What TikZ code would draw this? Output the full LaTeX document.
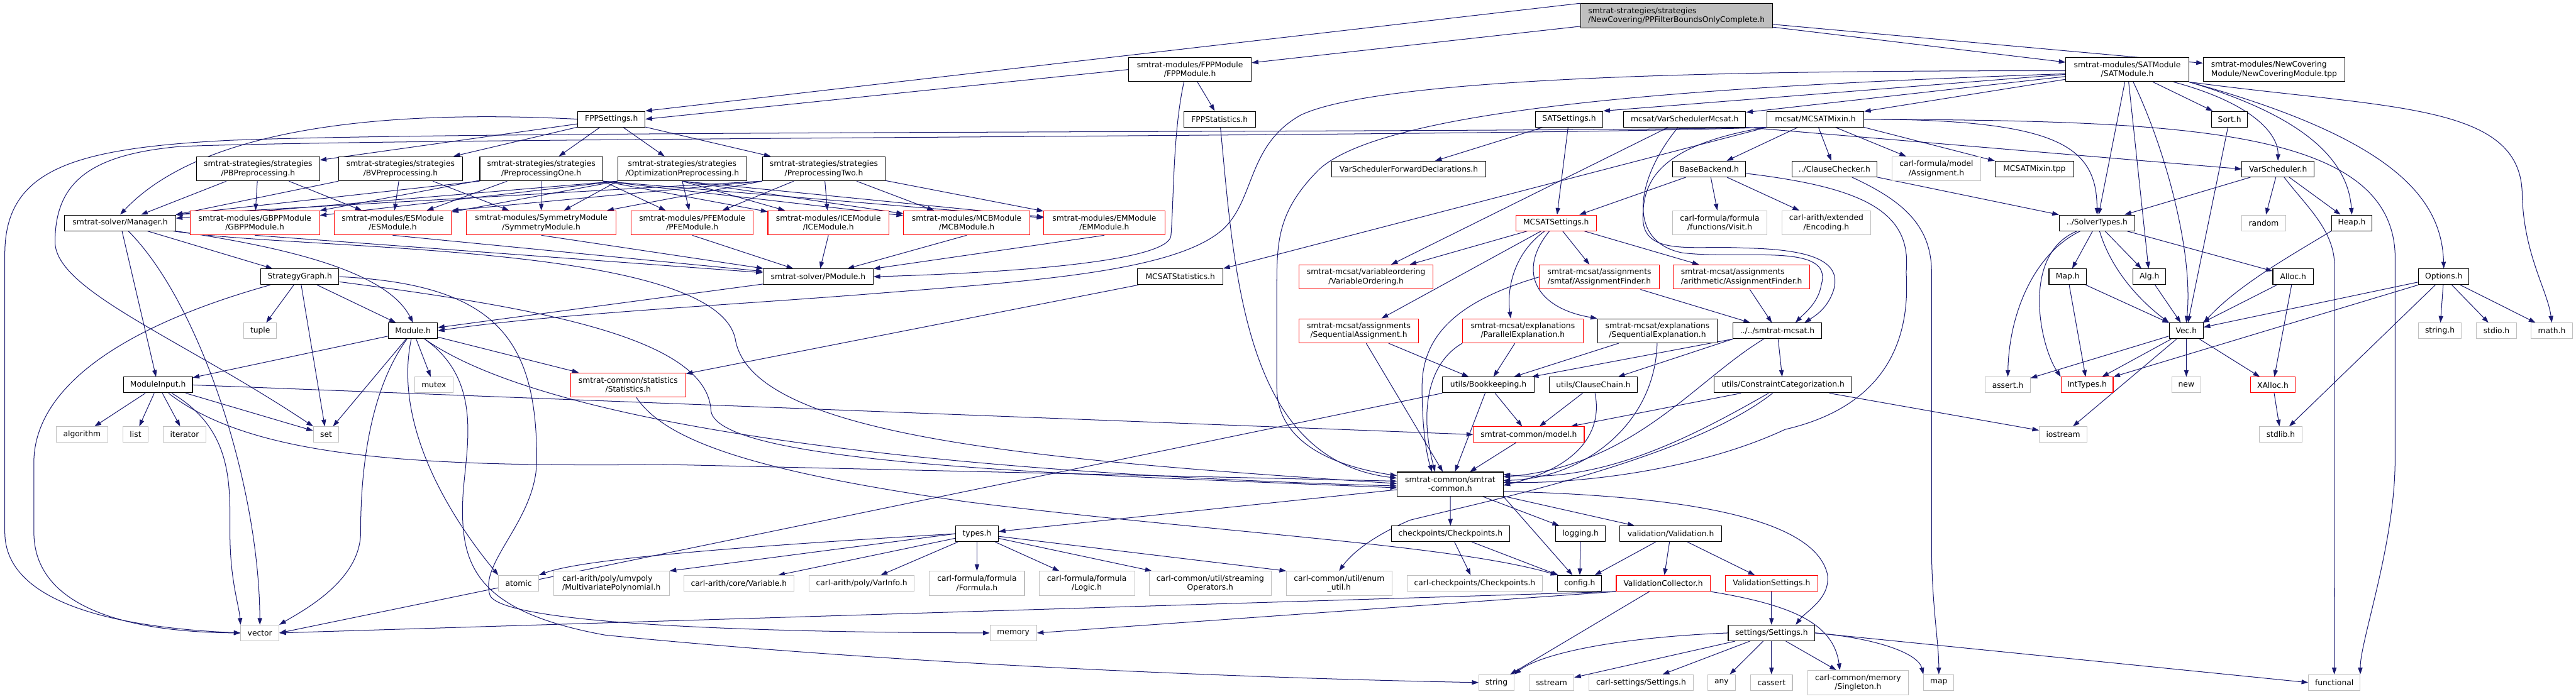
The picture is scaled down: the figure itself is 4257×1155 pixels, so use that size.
\documentclass[tikz,border=0pt]{standalone}
\usepackage{fontspec}
\setmainfont{DejaVu Sans}
\usetikzlibrary{arrows.meta}
\pgfdeclarelayer{bg}
\pgfsetlayers{bg,main}

\definecolor{edgeblue}{HTML}{191970}
\definecolor{extgray}{HTML}{BFBFBF}
\definecolor{rootfill}{HTML}{BFBFBF}
\definecolor{truncred}{HTML}{FF0000}

\begin{document}
\begin{tikzpicture}[
  x=1pt, y=-1pt, font=\fontsize{12.8}{15}\selectfont,
  box/.style={draw=black, fill=white, line width=1.1pt, inner sep=0pt, minimum height=26pt, align=center},
  two/.style={minimum height=40pt},
  trunc/.style={box, draw=truncred},
  ext/.style={box, draw=extgray},
  root/.style={box, fill=rootfill},
  dep/.style={draw=edgeblue, line width=1.05pt, -{Triangle[length=11pt,width=7.5pt]}}
]
\useasboundingbox (0,0) rectangle (4257,1155);

% row 1 and 2
\node[root, two, minimum width=317pt, align=left] (ppf) at (2770.5,26) {smtrat-strategies/strategies\\/NewCovering/PPFilterBoundsOnlyComplete.h};
\node[box, two, minimum width=203pt] (fppmod) at (1966.5,115) {smtrat-modules/FPPModule\\/FPPModule.h};
\node[box, two, minimum width=203pt] (satmod) at (3515.5,115) {smtrat-modules/SATModule\\/SATModule.h};
\node[box, two, minimum width=234pt, align=left] (ncov) at (3758,115) {smtrat-modules/NewCovering\\Module/NewCoveringModule.tpp};
% row 3
\node[box, minimum width=111pt] (fppset) at (1010.5,197) {FPPSettings.h};
\node[box, minimum width=119pt] (fppstat) at (2015.5,197) {FPPStatistics.h};
\node[box, minimum width=112pt] (satset) at (2593,197) {SATSettings.h};
\node[box, minimum width=202pt] (vsmcsat) at (2784,197) {mcsat/VarSchedulerMcsat.h};
\node[box, minimum width=160pt] (mixin) at (3000,197) {mcsat/MCSATMixin.h};
\node[box, minimum width=59pt] (sort) at (3684.5,197) {Sort.h};
% row 4
\node[box, two, minimum width=203pt] (pbpre) at (426.5,279) {smtrat-strategies/strategies\\/PBPreprocessing.h};
\node[box, two, minimum width=204pt] (bvpre) at (662,279) {smtrat-strategies/strategies\\/BVPreprocessing.h};
\node[box, two, minimum width=203pt] (pre1) at (894.5,279) {smtrat-strategies/strategies\\/PreprocessingOne.h};
\node[box, two, minimum width=213pt] (optpre) at (1127.5,279) {smtrat-strategies/strategies\\/OptimizationPreprocessing.h};
\node[box, two, minimum width=203pt] (pre2) at (1361.5,279) {smtrat-strategies/strategies\\/PreprocessingTwo.h};
\node[box, minimum width=254pt] (vsfwd) at (2328,279.5) {VarSchedulerForwardDeclarations.h};
\node[box, minimum width=121pt] (basebk) at (2824.5,279.5) {BaseBackend.h};
\node[box, minimum width=141pt] (clchk) at (3031.5,279.5) {../ClauseChecker.h};
\node[ext, two, minimum width=146pt] (assign) at (3200,279) {carl-formula/model\\/Assignment.h};
\node[box, minimum width=130pt] (mixtpp) at (3362,279.5) {MCSATMixin.tpp};
\node[box, minimum width=119pt] (vsched) at (3764.5,279.5) {VarScheduler.h};
% row 5
\node[box, minimum width=183pt] (manager) at (198.5,368.5) {smtrat-solver/Manager.h};
\node[trunc, two, minimum width=214pt] (gbpp) at (421,368.5) {smtrat-modules/GBPPModule\\/GBPPModule.h};
\node[trunc, two, minimum width=194pt] (esmod) at (649,368.5) {smtrat-modules/ESModule\\/ESModule.h};
\node[trunc, two, minimum width=247pt] (symm) at (894.5,368.5) {smtrat-modules/SymmetryModule\\/SymmetryModule.h};
\node[trunc, two, minimum width=202pt] (pfe) at (1144,368.5) {smtrat-modules/PFEModule\\/PFEModule.h};
\node[trunc, two, minimum width=200pt] (ice) at (1369,368.5) {smtrat-modules/ICEModule\\/ICEModule.h};
\node[trunc, two, minimum width=209pt] (mcb) at (1597.5,368.5) {smtrat-modules/MCBModule\\/MCBModule.h};
\node[trunc, two, minimum width=200pt] (em) at (1825,368.5) {smtrat-modules/EMModule\\/EMModule.h};
\node[trunc, minimum width=133pt] (mcsatset) at (2571.5,368.5) {MCSATSettings.h};
\node[ext, two, minimum width=156pt] (visit) at (2842,368.5) {carl-formula/formula\\/functions/Visit.h};
\node[ext, two, minimum width=146pt] (encoding) at (3018,368.5) {carl-arith/extended\\/Encoding.h};
\node[box, minimum width=125pt] (soltypes) at (3465.5,368.5) {../SolverTypes.h};
\node[ext, minimum width=72pt] (random) at (3741,368.5) {random};
\node[box, minimum width=67pt] (heap) at (3886.5,368.5) {Heap.h};
% row 6
\node[box, minimum width=129pt] (strat) at (495.5,457.5) {StrategyGraph.h};
\node[box, minimum width=182pt] (pmod) at (1352,457.5) {smtrat-solver/PModule.h};
\node[box, minimum width=141pt] (mcsatstat) at (1950.5,457.5) {MCSATStatistics.h};
\node[trunc, two, minimum width=221pt] (varord) at (2257.5,458) {smtrat-mcsat/variableordering\\/VariableOrdering.h};
\node[trunc, two, minimum width=198pt] (smtaf) at (2643,458) {smtrat-mcsat/assignments\\/smtaf/AssignmentFinder.h};
\node[trunc, two, minimum width=226pt, align=left] (arith) at (2878,458) {smtrat-mcsat/assignments\\/arithmetic/AssignmentFinder.h};
\node[box, minimum width=62pt] (mapH) at (3417,457.5) {Map.h};
\node[box, minimum width=54pt] (alg) at (3552,457.5) {Alg.h};
\node[box, minimum width=67pt] (alloc) at (3789.5,457.5) {Alloc.h};
\node[box, minimum width=83pt] (options) at (4038.5,457.5) {Options.h};
% row 7
\node[ext, minimum width=54pt] (tuple) at (430,547) {tuple};
\node[box, minimum width=81pt] (module) at (682.5,547) {Module.h};
\node[trunc, two, minimum width=197pt] (seqass) at (2245.5,547) {smtrat-mcsat/assignments\\/SequentialAssignment.h};
\node[trunc, two, minimum width=199pt] (parexp) at (2516.5,547) {smtrat-mcsat/explanations\\/ParallelExplanation.h};
\node[box, two, minimum width=198pt] (seqexp) at (2739,547) {smtrat-mcsat/explanations\\/SequentialExplanation.h};
\node[box, minimum width=146pt] (smcsat) at (2937,547) {../../smtrat-mcsat.h};
\node[box, minimum width=56pt] (vec) at (3613,547) {Vec.h};
\node[ext, minimum width=70pt] (stringh) at (4032,547) {string.h};
\node[ext, minimum width=67pt] (stdio) at (4125.5,547) {stdio.h};
\node[ext, minimum width=68pt] (math) at (4217,547) {math.h};
% row 8
\node[box, minimum width=114pt] (minput) at (261,636.5) {ModuleInput.h};
\node[ext, minimum width=64pt] (mutex) at (717,636.5) {mutex};
\node[trunc, two, minimum width=190pt] (stats) at (1038,636.5) {smtrat-common/statistics\\/Statistics.h};
\node[box, minimum width=151pt] (bookk) at (2459.5,636.5) {utils/Bookkeeping.h};
\node[box, minimum width=146pt] (cchain) at (2633,636.5) {utils/ClauseChain.h};
\node[box, minimum width=227pt] (ccat) at (2946.5,636.5) {utils/ConstraintCategorization.h};
\node[ext, minimum width=74pt] (asserth) at (3318,636.5) {assert.h};
\node[trunc, minimum width=86pt] (inttypes) at (3449,636.5) {IntTypes.h};
\node[ext, minimum width=48pt] (newh) at (3613,636.5) {new};
\node[trunc, minimum width=74pt] (xalloc) at (3756,636.5) {XAlloc.h};
% row 9
\node[ext, minimum width=85pt] (algorithm) at (135.5,718.5) {algorithm};
\node[ext, minimum width=42pt] (list) at (224,718.5) {list};
\node[ext, minimum width=70pt] (iterator) at (305,718.5) {iterator};
\node[ext, minimum width=42pt] (set) at (539,718.5) {set};
\node[trunc, minimum width=183pt] (model) at (2526.5,718.5) {smtrat-common/model.h};
\node[ext, minimum width=79pt] (iostream) at (3409.5,718.5) {iostream};
\node[ext, minimum width=70pt] (stdlib) at (3769,718.5) {stdlib.h};
% row 10 and 11
\node[box, two, minimum width=175pt] (common) at (2396.5,800.5) {smtrat-common/smtrat\\-common.h};
\node[box, minimum width=71pt] (types) at (1614.5,882.5) {types.h};
\node[box, minimum width=196pt] (chkpts) at (2397,882.5) {checkpoints/Checkpoints.h};
\node[box, minimum width=82pt] (logging) at (2612,882.5) {logging.h};
\node[box, minimum width=168pt] (valid) at (2761,882.5) {validation/Validation.h};
% row 12
\node[ext, minimum width=66pt] (atomic) at (857,964.5) {atomic};
\node[ext, two, minimum width=191pt, align=left] (mvpoly) at (1010.5,964.5) {carl-arith/poly/umvpoly\\/MultivariatePolynomial.h};
\node[ext, minimum width=182pt] (variable) at (1221,964.5) {carl-arith/core/Variable.h};
\node[ext, minimum width=174pt] (varinfo) at (1424,964.5) {carl-arith/poly/VarInfo.h};
\node[ext, two, minimum width=157pt] (formula) at (1614.5,964.5) {carl-formula/formula\\/Formula.h};
\node[ext, two, minimum width=158pt] (logic) at (1796,964.5) {carl-formula/formula\\/Logic.h};
\node[ext, two, minimum width=202pt] (streamop) at (2000,964.5) {carl-common/util/streaming\\Operators.h};
\node[ext, two, minimum width=174pt] (enumutil) at (2213,964.5) {carl-common/util/enum\\\_util.h};
\node[ext, minimum width=224pt] (cchk) at (2437,964.5) {carl-checkpoints/Checkpoints.h};
\node[box, minimum width=73pt] (config) at (2610.5,964.5) {config.h};
\node[trunc, minimum width=155pt] (vcoll) at (2748.5,964.5) {ValidationCollector.h};
\node[trunc, minimum width=153pt] (vset) at (2927.5,964.5) {ValidationSettings.h};
% row 13 and 14
\node[ext, minimum width=63pt] (vector) at (429.5,1046.5) {vector};
\node[ext, minimum width=77pt] (memory) at (1674.5,1046.5) {memory};
\node[box, minimum width=143pt] (settings) at (2927.5,1046.5) {settings/Settings.h};
\node[ext, minimum width=58pt] (stringstd) at (2473,1128.5) {string};
\node[ext, minimum width=74pt] (sstream) at (2564,1128.5) {sstream};
\node[ext, minimum width=172pt] (carlset) at (2712,1128.5) {carl-settings/Settings.h};
\node[ext, minimum width=46pt] (any) at (2845,1128.5) {any};
\node[ext, minimum width=69pt] (cassert) at (2927.5,1128.5) {cassert};
\node[ext, two, minimum width=167pt] (singleton) at (3070.5,1128.5) {carl-common/memory\\/Singleton.h};
\node[ext, minimum width=50pt] (mapstd) at (3204,1128.5) {map};
\node[ext, minimum width=85pt] (functional) at (3857.5,1128.5) {functional};

\begin{pgfonlayer}{bg}
\fill[white] (0,0) rectangle (4257,1155);

% the file itself
\foreach \tgt in {fppmod,satmod,ncov} \draw[dep] (ppf) -- (\tgt);
\draw[dep] (ppf.north west) -- (fppset.north east);

% FPP module and settings
\draw[dep] (fppmod.west) -- (fppset.east);
\draw[dep] (fppmod) -- (fppstat);
\draw[dep] ([xshift=-10pt]fppmod.south) .. controls (1938,220) and (1940,330) .. (1935,390) .. controls (1930,430) and (1700,450) .. (pmod.east);
\foreach \tgt in {pbpre,bvpre,pre1,optpre,pre2} \draw[dep] (fppset) -- (\tgt);
\draw[dep] (fppset.west) .. controls (620,180) and (330,215) .. (manager.north);

% strategies
\foreach \tgt in {manager,gbpp,esmod} \draw[dep] (pbpre) -- (\tgt);
\foreach \tgt in {esmod,symm} \draw[dep] (bvpre) -- (\tgt);
\draw[dep] (bvpre.south west) -- (manager.north east);
\foreach \tgt in {gbpp,esmod,symm} \draw[dep] (pre1) -- (\tgt);
\foreach \tgt in {pfe,ice,mcb,em} \draw[dep] (pre1.south east) -- (\tgt);
\draw[dep] (pre1.south west) -- (manager.north east);
\foreach \tgt in {manager,gbpp,esmod,symm} \draw[dep] (optpre.south west) -- (\tgt);
\foreach \tgt in {pfe,ice,mcb,em} \draw[dep] (optpre.south) -- (\tgt);
\draw[dep] (pre2.south west) -- (manager.north east);
\draw[dep] (pre2.south west) -- (esmod.north east);
\draw[dep] (pre2.south west) -- (symm);
\foreach \tgt in {pfe,ice,mcb,em} \draw[dep] (pre2) -- (\tgt);

% modules
\foreach \src in {gbpp,esmod,symm,pfe,ice,mcb,em} \draw[dep] (\src.south) -- (pmod);
\draw[dep] (pmod) -- (module);

% solver
\foreach \tgt in {minput,strat} \draw[dep] (manager) -- (\tgt);
\draw[dep] (manager) .. controls (480,410) and (640,450) .. (module.north);
\draw[dep] (manager) .. controls (330,500) and (428,800) .. (vector.north);
\draw[dep] (manager) .. controls (500,415) and (1180,400) .. (1215,560) .. controls (1240,720) and (1700,760) .. ([yshift=1pt]common.west);
\foreach \tgt in {tuple,set,module} \draw[dep] (strat) -- (\tgt);
\draw[dep] (strat) .. controls (200,540) and (60,640) .. (56,760) -- (56,880) .. controls (56,1000) and (200,1045) .. (vector.west);
\draw[dep] (strat.east) .. controls (820,470) and (887,560) .. (887,760) .. controls (887,860) and (790,930) .. (810,985) .. controls (840,1040) and (1400,1046) .. (memory.west);
\draw[dep] (strat) .. controls (900,510) and (1170,560) .. (1175,680) .. controls (1190,770) and (1800,785) .. ([yshift=-6pt]common.west);
\foreach \tgt in {minput,set,mutex,stats} \draw[dep] (module) -- (\tgt);
\draw[dep] (module) .. controls (600,660) and (596,820) .. (596,880) .. controls (596,960) and (500,1010) .. (vector.north east);
\draw[dep] (module) .. controls (650,700) and (740,850) .. (atomic.north west);
\draw[dep] (module) .. controls (800,630) and (770,740) .. (765,820) .. controls (760,930) and (780,1010) .. (1000,1050) .. controls (1500,1100) and (2100,1122) .. (stringstd.west);
\draw[dep] (module) .. controls (900,700) and (1500,780) .. ([yshift=-3pt]common.west);
\foreach \tgt in {algorithm,list,iterator,set} \draw[dep] (minput) -- (\tgt);
\draw[dep] (minput.east) -- (model.west);
\draw[dep] (minput) .. controls (420,760) and (700,772) .. (1100,768) -- ([yshift=5pt]common.west);
\draw[dep] (minput) .. controls (385,710) and (380,800) .. (380,880) .. controls (380,960) and (395,1000) .. (vector.north west);
\draw[dep] (stats) .. controls (1100,730) and (1250,780) .. (1600,830) .. controls (2000,880) and (2400,900) .. (config.north west);
\draw[dep] (mcsatstat) -- (stats);
\draw[dep] (fppstat) .. controls (2040,450) and (2055,760) .. ([yshift=10pt]common.west);

% SAT module
\draw[dep] ([yshift=-8pt]satmod.west) -- (satset.north east);
\foreach \tgt in {vsmcsat,mixin,sort,soltypes,alg} \draw[dep] (satmod) -- (\tgt);
\draw[dep] ([yshift=-2pt]satmod.west) .. controls (3000,117) and (2300,120) .. (2150,190) .. controls (2060,240) and (2075,330) .. (2020,380) .. controls (1940,450) and (1700,465) .. (1450,485) .. controls (1200,505) and (900,520) .. (module.east);
\draw[dep] ([yshift=-7pt]satmod.west) .. controls (2900,140) and (2300,170) .. (2180,280) .. controls (2110,350) and (2110,400) .. (2110,480) -- (2110,640) .. controls (2110,730) and (2200,770) .. ([yshift=14pt]common.west);
\draw[dep] (satmod) .. controls (3720,170) and (3765,220) .. (vsched.north);
\draw[dep] (satmod.south east) .. controls (3800,190) and (3880,260) .. (heap.north);
\draw[dep] (satmod) .. controls (3580,250) and (3625,420) .. (vec.north);
\draw[dep] (satmod.south east) .. controls (3960,230) and (4035,330) .. (options.north);
\draw[dep] (satmod.south east) .. controls (3950,180) and (4165,170) .. (4168,320) .. controls (4170,420) and (4210,480) .. (math.north);

% mcsat
\foreach \tgt in {vsfwd,mcsatset} \draw[dep] (satset) -- (\tgt);
\draw[dep] (vsmcsat) -- (varord);
\draw[dep] (vsmcsat.south east) -- (vsched.west);
\draw[dep] (vsmcsat) .. controls (2700,300) and (2690,400) .. (2780,418) .. controls (2880,430) and (3030,400) .. (3010,470) .. controls (3005,500) and (2985,515) .. ([xshift=30pt]smcsat.north);
\draw[dep] (mixin.south west) -- (mcsatstat.north east);
\foreach \tgt in {basebk,clchk,assign} \draw[dep] (mixin) -- (\tgt);
\draw[dep] (mixin.south east) -- (mixtpp.north west);
\draw[dep] (mixin) .. controls (2740,240) and (2715,300) .. (2715,360) .. controls (2715,425) and (2800,405) .. (2880,410) .. controls (2990,412) and (3045,430) .. (3030,480) .. controls (3020,510) and (3000,522) .. ([xshift=45pt]smcsat.north);
\draw[dep] (mixin.east) .. controls (3400,198) and (3465,240) .. (soltypes.north);
\draw[dep] (mixin.east) .. controls (3600,200) and (3950,210) .. (3958,420) -- (3958,760) .. controls (3958,900) and (3900,1060) .. (functional.north east);
\draw[dep] (mixin.south west) .. controls (2500,220) and (800,215) .. (380,232) .. controls (120,245) and (8,280) .. (8,420) -- (8,880) .. controls (8,1000) and (200,1038) .. (vector.west);
\draw[dep] (mixin.south west) .. controls (2500,226) and (700,227) .. (300,242) .. controls (150,255) and (91,300) .. (91,400) .. controls (91,480) and (300,560) .. (set.north west);
\foreach \tgt in {mcsatset,visit,encoding} \draw[dep] (basebk) -- (\tgt);
\draw[dep] (basebk) .. controls (3080,310) and (3160,350) .. (3150,450) .. controls (3160,600) and (3080,680) .. (2950,710) .. controls (2800,780) and (2600,800) .. ([yshift=3pt]common.east);
\draw[dep] (clchk.south east) -- (soltypes.north west);
\draw[dep] (clchk) .. controls (3140,330) and (3192,370) .. (3192,450) -- (3192,900) .. controls (3192,1000) and (3204,1060) .. (mapstd.north);
\foreach \tgt in {varord,seqass,smtaf,arith} \draw[dep] (mcsatset) -- (\tgt);
\draw[dep] (mcsatset) .. controls (2500,420) and (2490,480) .. ([xshift=-20pt]parexp.north);
\draw[dep] (mcsatset) .. controls (2505,450) and (2540,510) .. (seqexp.north west);
\foreach \src in {smtaf,arith} \draw[dep] (\src) -- (smcsat);
\draw[dep] (smtaf.west) .. controls (2400,500) and (2350,560) .. (2350,640) .. controls (2350,720) and (2360,760) .. ([xshift=-30pt]common.north);
\foreach \tgt in {bookk,common} \draw[dep] (seqass) -- (\tgt);
\draw[dep] (parexp) -- (bookk);
\draw[dep] (parexp.south west) .. controls (2360,600) and (2345,680) .. ([xshift=-25pt]common.north);
\draw[dep] (seqexp) -- (bookk);
\draw[dep] (seqexp) .. controls (2735,700) and (2620,790) .. ([yshift=6pt]common.east);
\foreach \tgt in {bookk,cchain} \draw[dep] (smcsat.south west) -- (\tgt);
\draw[dep] (smcsat) -- (ccat);
\draw[dep] (smcsat) .. controls (2800,630) and (2700,770) .. ([yshift=12pt]common.east);
\foreach \tgt in {model,common} \draw[dep] (bookk) -- (\tgt);
\draw[dep] (bookk.south west) -- (vector.east);
\draw[dep] (cchain) -- (model);
\draw[dep] (cchain) .. controls (2650,720) and (2600,775) .. ([yshift=-2pt]common.east);
\foreach \tgt in {model,iostream} \draw[dep] (ccat) -- (\tgt);
\draw[dep] (ccat) .. controls (2800,720) and (2650,800) .. ([yshift=16pt]common.east);
\draw[dep] (ccat) .. controls (2790,760) and (2450,830) .. (2330,860) .. controls (2260,890) and (2230,920) .. (enumutil.north);
\draw[dep] (model) -- (common);

% smtrat-common
\foreach \tgt in {types,chkpts,logging,valid} \draw[dep] (common) -- (\tgt);
\draw[dep] (common.south east) -- (config);
\draw[dep] ([yshift=-12pt]common.east) .. controls (2800,820) and (3000,860) .. (3020,950) .. controls (3025,990) and (2985,1010) .. ([xshift=40pt]settings.north);
\foreach \tgt in {cchk,config} \draw[dep] (chkpts) -- (\tgt);
\draw[dep] (logging) -- (config);
\foreach \tgt in {config,vcoll,vset} \draw[dep] (valid) -- (\tgt);
\draw[dep] (vcoll.south west) -- (memory.east);
\draw[dep] (vcoll.south west) -- (vector.east);
\draw[dep] (vcoll) -- (stringstd);
\draw[dep] (vcoll.south east) .. controls (2960,1000) and (3030,1030) .. ([xshift=-30pt]singleton.north);
\draw[dep] (vset) -- (settings);
\foreach \tgt in {sstream,carlset,any,cassert,singleton} \draw[dep] (settings) -- (\tgt);
\draw[dep] (settings.east) -- (functional.west);
\draw[dep] (settings.west) .. controls (2650,1055) and (2540,1085) .. (stringstd.north east);
\draw[dep] (settings.east) .. controls (3100,1055) and (3170,1080) .. (mapstd.north west);
\foreach \tgt in {variable,varinfo,formula,logic,streamop} \draw[dep] (types) -- (\tgt);
\draw[dep] (types) -- (enumutil.north west);
\draw[dep] (types.west) -- (mvpoly.north east);
\draw[dep] (types.west) .. controls (1200,905) and (960,925) .. (atomic.north east);

% minisat part
\foreach \tgt in {soltypes,random,heap} \draw[dep] (vsched) -- (\tgt);
\draw[dep] (vsched) .. controls (3810,340) and (3858,380) .. (3858,440) -- (functional.north);
\draw[dep] (sort) -- (vec);
\draw[dep] (heap.south west) .. controls (3790,420) and (3700,470) .. (vec.north east);
\foreach \tgt in {mapH,alg,alloc} \draw[dep] (soltypes) -- (\tgt);
\draw[dep] (soltypes) .. controls (3490,450) and (3540,500) .. (vec.north west);
\draw[dep] (soltypes) .. controls (3360,420) and (3320,520) .. (asserth.north);
\draw[dep] (soltypes) .. controls (3340,420) and (3370,570) .. (inttypes.north west);
\foreach \tgt in {vec,inttypes} \draw[dep] (mapH) -- (\tgt);
\draw[dep] (alg) -- (vec);
\foreach \tgt in {vec,xalloc} \draw[dep] (alloc) -- (\tgt);
\foreach \tgt in {vec,stdlib,stringh,stdio,math} \draw[dep] (options) -- (\tgt);
\draw[dep] (options.south west) -- (inttypes.north east);
\foreach \tgt in {asserth,inttypes,iostream,newh,xalloc} \draw[dep] (vec) -- (\tgt);
\draw[dep] (xalloc) -- (stdlib);
\end{pgfonlayer}
\end{tikzpicture}
\end{document}
